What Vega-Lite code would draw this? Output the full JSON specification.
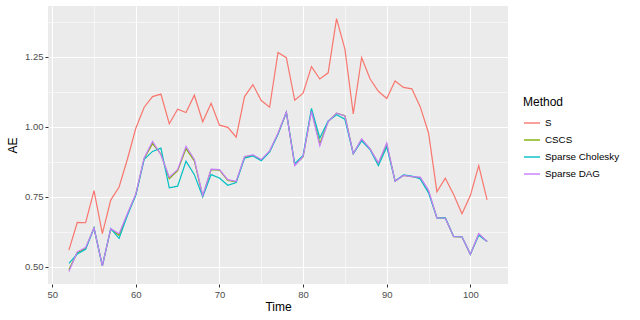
{
  "$schema": "https://vega.github.io/schema/vega-lite/v6.json",
  "width": 460,
  "height": 278,
  "autosize": "none",
  "padding": {"left": 48, "top": 6, "right": 132, "bottom": 36},
  "background": "white",
  "config": {
    "view": {"fill": "#EBEBEB", "stroke": null},
    "font": "Liberation Sans",
    "axis": {
      "domain": false,
      "gridColor": "white",
      "tickColor": "#333333",
      "tickSize": 3,
      "labelColor": "#4D4D4D",
      "labelFontSize": 9.5,
      "labelFont": "Liberation Sans",
      "titleFont": "Liberation Sans",
      "titleFontSize": 12,
      "titleFontWeight": "normal",
      "titleColor": "black"
    }
  },
  "data": {"values": [
    {"Time":52,"Method":"S","AE":0.559},{"Time":53,"Method":"S","AE":0.658},{"Time":54,"Method":"S","AE":0.657},{"Time":55,"Method":"S","AE":0.772},{"Time":56,"Method":"S","AE":0.618},{"Time":57,"Method":"S","AE":0.738},{"Time":58,"Method":"S","AE":0.785},{"Time":59,"Method":"S","AE":0.885},{"Time":60,"Method":"S","AE":0.995},{"Time":61,"Method":"S","AE":1.070},{"Time":62,"Method":"S","AE":1.108},{"Time":63,"Method":"S","AE":1.117},{"Time":64,"Method":"S","AE":1.011},{"Time":65,"Method":"S","AE":1.063},{"Time":66,"Method":"S","AE":1.051},{"Time":67,"Method":"S","AE":1.113},{"Time":68,"Method":"S","AE":1.018},{"Time":69,"Method":"S","AE":1.084},{"Time":70,"Method":"S","AE":1.006},{"Time":71,"Method":"S","AE":0.998},{"Time":72,"Method":"S","AE":0.963},{"Time":73,"Method":"S","AE":1.108},{"Time":74,"Method":"S","AE":1.151},{"Time":75,"Method":"S","AE":1.094},{"Time":76,"Method":"S","AE":1.070},{"Time":77,"Method":"S","AE":1.266},{"Time":78,"Method":"S","AE":1.247},{"Time":79,"Method":"S","AE":1.095},{"Time":80,"Method":"S","AE":1.120},{"Time":81,"Method":"S","AE":1.215},{"Time":82,"Method":"S","AE":1.171},{"Time":83,"Method":"S","AE":1.193},{"Time":84,"Method":"S","AE":1.387},{"Time":85,"Method":"S","AE":1.278},{"Time":86,"Method":"S","AE":1.046},{"Time":87,"Method":"S","AE":1.248},{"Time":88,"Method":"S","AE":1.172},{"Time":89,"Method":"S","AE":1.127},{"Time":90,"Method":"S","AE":1.101},{"Time":91,"Method":"S","AE":1.164},{"Time":92,"Method":"S","AE":1.141},{"Time":93,"Method":"S","AE":1.136},{"Time":94,"Method":"S","AE":1.072},{"Time":95,"Method":"S","AE":0.978},{"Time":96,"Method":"S","AE":0.768},{"Time":97,"Method":"S","AE":0.816},{"Time":98,"Method":"S","AE":0.758},{"Time":99,"Method":"S","AE":0.689},{"Time":100,"Method":"S","AE":0.754},{"Time":101,"Method":"S","AE":0.861},{"Time":102,"Method":"S","AE":0.739},
    {"Time":52,"Method":"CSCS","AE":0.490},{"Time":53,"Method":"CSCS","AE":0.550},{"Time":54,"Method":"CSCS","AE":0.566},{"Time":55,"Method":"CSCS","AE":0.638},{"Time":56,"Method":"CSCS","AE":0.503},{"Time":57,"Method":"CSCS","AE":0.634},{"Time":58,"Method":"CSCS","AE":0.612},{"Time":59,"Method":"CSCS","AE":0.687},{"Time":60,"Method":"CSCS","AE":0.758},{"Time":61,"Method":"CSCS","AE":0.887},{"Time":62,"Method":"CSCS","AE":0.940},{"Time":63,"Method":"CSCS","AE":0.903},{"Time":64,"Method":"CSCS","AE":0.815},{"Time":65,"Method":"CSCS","AE":0.843},{"Time":66,"Method":"CSCS","AE":0.922},{"Time":67,"Method":"CSCS","AE":0.878},{"Time":68,"Method":"CSCS","AE":0.752},{"Time":69,"Method":"CSCS","AE":0.847},{"Time":70,"Method":"CSCS","AE":0.845},{"Time":71,"Method":"CSCS","AE":0.808},{"Time":72,"Method":"CSCS","AE":0.803},{"Time":73,"Method":"CSCS","AE":0.891},{"Time":74,"Method":"CSCS","AE":0.898},{"Time":75,"Method":"CSCS","AE":0.881},{"Time":76,"Method":"CSCS","AE":0.912},{"Time":77,"Method":"CSCS","AE":0.975},{"Time":78,"Method":"CSCS","AE":1.052},{"Time":79,"Method":"CSCS","AE":0.863},{"Time":80,"Method":"CSCS","AE":0.892},{"Time":81,"Method":"CSCS","AE":1.058},{"Time":82,"Method":"CSCS","AE":0.940},{"Time":83,"Method":"CSCS","AE":1.019},{"Time":84,"Method":"CSCS","AE":1.049},{"Time":85,"Method":"CSCS","AE":1.040},{"Time":86,"Method":"CSCS","AE":0.904},{"Time":87,"Method":"CSCS","AE":0.955},{"Time":88,"Method":"CSCS","AE":0.921},{"Time":89,"Method":"CSCS","AE":0.868},{"Time":90,"Method":"CSCS","AE":0.938},{"Time":91,"Method":"CSCS","AE":0.806},{"Time":92,"Method":"CSCS","AE":0.826},{"Time":93,"Method":"CSCS","AE":0.822},{"Time":94,"Method":"CSCS","AE":0.818},{"Time":95,"Method":"CSCS","AE":0.770},{"Time":96,"Method":"CSCS","AE":0.674},{"Time":97,"Method":"CSCS","AE":0.674},{"Time":98,"Method":"CSCS","AE":0.607},{"Time":99,"Method":"CSCS","AE":0.606},{"Time":100,"Method":"CSCS","AE":0.544},{"Time":101,"Method":"CSCS","AE":0.616},{"Time":102,"Method":"CSCS","AE":0.590},
    {"Time":52,"Method":"Sparse Cholesky","AE":0.512},{"Time":53,"Method":"Sparse Cholesky","AE":0.545},{"Time":54,"Method":"Sparse Cholesky","AE":0.562},{"Time":55,"Method":"Sparse Cholesky","AE":0.638},{"Time":56,"Method":"Sparse Cholesky","AE":0.503},{"Time":57,"Method":"Sparse Cholesky","AE":0.636},{"Time":58,"Method":"Sparse Cholesky","AE":0.601},{"Time":59,"Method":"Sparse Cholesky","AE":0.684},{"Time":60,"Method":"Sparse Cholesky","AE":0.756},{"Time":61,"Method":"Sparse Cholesky","AE":0.884},{"Time":62,"Method":"Sparse Cholesky","AE":0.912},{"Time":63,"Method":"Sparse Cholesky","AE":0.924},{"Time":64,"Method":"Sparse Cholesky","AE":0.782},{"Time":65,"Method":"Sparse Cholesky","AE":0.788},{"Time":66,"Method":"Sparse Cholesky","AE":0.877},{"Time":67,"Method":"Sparse Cholesky","AE":0.829},{"Time":68,"Method":"Sparse Cholesky","AE":0.750},{"Time":69,"Method":"Sparse Cholesky","AE":0.829},{"Time":70,"Method":"Sparse Cholesky","AE":0.817},{"Time":71,"Method":"Sparse Cholesky","AE":0.791},{"Time":72,"Method":"Sparse Cholesky","AE":0.801},{"Time":73,"Method":"Sparse Cholesky","AE":0.888},{"Time":74,"Method":"Sparse Cholesky","AE":0.896},{"Time":75,"Method":"Sparse Cholesky","AE":0.879},{"Time":76,"Method":"Sparse Cholesky","AE":0.910},{"Time":77,"Method":"Sparse Cholesky","AE":0.973},{"Time":78,"Method":"Sparse Cholesky","AE":1.052},{"Time":79,"Method":"Sparse Cholesky","AE":0.868},{"Time":80,"Method":"Sparse Cholesky","AE":0.898},{"Time":81,"Method":"Sparse Cholesky","AE":1.066},{"Time":82,"Method":"Sparse Cholesky","AE":0.960},{"Time":83,"Method":"Sparse Cholesky","AE":1.021},{"Time":84,"Method":"Sparse Cholesky","AE":1.043},{"Time":85,"Method":"Sparse Cholesky","AE":1.027},{"Time":86,"Method":"Sparse Cholesky","AE":0.904},{"Time":87,"Method":"Sparse Cholesky","AE":0.950},{"Time":88,"Method":"Sparse Cholesky","AE":0.919},{"Time":89,"Method":"Sparse Cholesky","AE":0.861},{"Time":90,"Method":"Sparse Cholesky","AE":0.928},{"Time":91,"Method":"Sparse Cholesky","AE":0.806},{"Time":92,"Method":"Sparse Cholesky","AE":0.828},{"Time":93,"Method":"Sparse Cholesky","AE":0.824},{"Time":94,"Method":"Sparse Cholesky","AE":0.814},{"Time":95,"Method":"Sparse Cholesky","AE":0.764},{"Time":96,"Method":"Sparse Cholesky","AE":0.674},{"Time":97,"Method":"Sparse Cholesky","AE":0.675},{"Time":98,"Method":"Sparse Cholesky","AE":0.608},{"Time":99,"Method":"Sparse Cholesky","AE":0.607},{"Time":100,"Method":"Sparse Cholesky","AE":0.544},{"Time":101,"Method":"Sparse Cholesky","AE":0.612},{"Time":102,"Method":"Sparse Cholesky","AE":0.590},
    {"Time":52,"Method":"Sparse DAG","AE":0.483},{"Time":53,"Method":"Sparse DAG","AE":0.553},{"Time":54,"Method":"Sparse DAG","AE":0.568},{"Time":55,"Method":"Sparse DAG","AE":0.638},{"Time":56,"Method":"Sparse DAG","AE":0.503},{"Time":57,"Method":"Sparse DAG","AE":0.636},{"Time":58,"Method":"Sparse DAG","AE":0.618},{"Time":59,"Method":"Sparse DAG","AE":0.690},{"Time":60,"Method":"Sparse DAG","AE":0.760},{"Time":61,"Method":"Sparse DAG","AE":0.889},{"Time":62,"Method":"Sparse DAG","AE":0.948},{"Time":63,"Method":"Sparse DAG","AE":0.900},{"Time":64,"Method":"Sparse DAG","AE":0.820},{"Time":65,"Method":"Sparse DAG","AE":0.847},{"Time":66,"Method":"Sparse DAG","AE":0.930},{"Time":67,"Method":"Sparse DAG","AE":0.883},{"Time":68,"Method":"Sparse DAG","AE":0.754},{"Time":69,"Method":"Sparse DAG","AE":0.849},{"Time":70,"Method":"Sparse DAG","AE":0.847},{"Time":71,"Method":"Sparse DAG","AE":0.811},{"Time":72,"Method":"Sparse DAG","AE":0.805},{"Time":73,"Method":"Sparse DAG","AE":0.894},{"Time":74,"Method":"Sparse DAG","AE":0.900},{"Time":75,"Method":"Sparse DAG","AE":0.883},{"Time":76,"Method":"Sparse DAG","AE":0.914},{"Time":77,"Method":"Sparse DAG","AE":0.977},{"Time":78,"Method":"Sparse DAG","AE":1.053},{"Time":79,"Method":"Sparse DAG","AE":0.861},{"Time":80,"Method":"Sparse DAG","AE":0.894},{"Time":81,"Method":"Sparse DAG","AE":1.055},{"Time":82,"Method":"Sparse DAG","AE":0.932},{"Time":83,"Method":"Sparse DAG","AE":1.019},{"Time":84,"Method":"Sparse DAG","AE":1.049},{"Time":85,"Method":"Sparse DAG","AE":1.039},{"Time":86,"Method":"Sparse DAG","AE":0.904},{"Time":87,"Method":"Sparse DAG","AE":0.957},{"Time":88,"Method":"Sparse DAG","AE":0.921},{"Time":89,"Method":"Sparse DAG","AE":0.871},{"Time":90,"Method":"Sparse DAG","AE":0.942},{"Time":91,"Method":"Sparse DAG","AE":0.805},{"Time":92,"Method":"Sparse DAG","AE":0.826},{"Time":93,"Method":"Sparse DAG","AE":0.822},{"Time":94,"Method":"Sparse DAG","AE":0.820},{"Time":95,"Method":"Sparse DAG","AE":0.773},{"Time":96,"Method":"Sparse DAG","AE":0.674},{"Time":97,"Method":"Sparse DAG","AE":0.674},{"Time":98,"Method":"Sparse DAG","AE":0.607},{"Time":99,"Method":"Sparse DAG","AE":0.607},{"Time":100,"Method":"Sparse DAG","AE":0.544},{"Time":101,"Method":"Sparse DAG","AE":0.618},{"Time":102,"Method":"Sparse DAG","AE":0.590}
  ]},
  "mark": {"type": "line", "strokeWidth": 1.2, "clip": true},
  "encoding": {
    "x": {
      "field": "Time", "type": "quantitative", "title": "Time",
      "scale": {"domain": [49.5, 104.5], "nice": false, "zero": false},
      "axis": {
        "values": [50, 55, 60, 65, 70, 75, 80, 85, 90, 95, 100],
        "labelExpr": "datum.value % 10 === 0 ? datum.label : ''",
        "gridWidth": {"condition": {"test": "datum.value % 10 === 0", "value": 1.1}, "value": 0.55},
        "tickOpacity": {"condition": {"test": "datum.value % 10 === 0", "value": 1}, "value": 0},
        "labelPadding": 2,
        "titlePadding": 3
      }
    },
    "y": {
      "field": "AE", "type": "quantitative", "title": "AE",
      "scale": {"domain": [0.438, 1.432], "nice": false, "zero": false},
      "axis": {
        "values": [0.5, 0.625, 0.75, 0.875, 1.0, 1.125, 1.25, 1.375],
        "format": ".2f",
        "labelExpr": "round(datum.value * 1000) % 250 === 0 ? datum.label : ''",
        "gridWidth": {"condition": {"test": "round(datum.value * 1000) % 250 === 0", "value": 1.1}, "value": 0.55},
        "tickOpacity": {"condition": {"test": "round(datum.value * 1000) % 250 === 0", "value": 1}, "value": 0},
        "labelPadding": 2,
        "titlePadding": 5
      }
    },
    "color": {
      "field": "Method", "type": "nominal",
      "scale": {
        "domain": ["S", "CSCS", "Sparse Cholesky", "Sparse DAG"],
        "range": ["#F8766D", "#7CAE00", "#00BFC4", "#C77CFF"]
      },
      "legend": {
        "orient": "none",
        "legendX": 475,
        "legendY": 91,
        "title": "Method",
        "titleFontSize": 12,
        "titleFontWeight": "normal",
        "titleColor": "black",
        "titlePadding": 5,
        "labelFontSize": 9.8,
        "labelColor": "black",
        "labelOffset": 4,
        "symbolType": "stroke",
        "symbolSize": 256,
        "symbolStrokeWidth": 1.4,
        "rowPadding": 3
      }
    }
  }
}
